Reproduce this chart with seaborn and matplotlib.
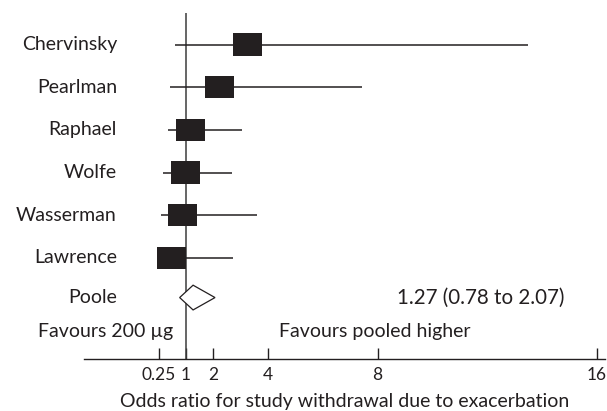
import numpy as np
import pandas as pd
import seaborn as sns
from matplotlib import pyplot as plt
from matplotlib.path import Path

# study odds ratios (linear axis)
studies = ["Chervinsky", "Pearlman", "Raphael", "Wolfe", "Wasserman", "Lawrence"]
odds = [3.27, 2.24, 1.18, 0.99, 0.90, 0.49]
ci_low = [0.62, 0.43, 0.34, 0.16, 0.10, 0.05]
ci_high = [13.5, 7.42, 3.04, 2.68, 3.59, 2.72]

pooled_name = "Poole"
pooled = [1.27, 0.78, 2.07]  # estimate, low, high

tick_vals = [0.03, 1, 2, 4, 8, 16]
tick_labels = ["0.25", "1", "2", "4", "8", "16"]

df = pd.DataFrame({"study": studies, "odds": odds, "lo": ci_low, "hi": ci_high})
df["row"] = np.arange(len(df))

sns.set_theme(style="white")
plt.rcParams["font.family"] = ["Lato", "DejaVu Sans"]
ink = "#231f20"
fs = 14

fig = plt.figure(figsize=(6.07, 4.11), dpi=100)
ax = fig.add_axes([84 / 607, 1 - 359 / 411, (605 - 84) / 607, (359 - 13) / 411])

# confidence intervals
ax.hlines(df["row"], df["lo"], df["hi"], color=ink, lw=1.1, zorder=2)

# rectangular boxes
box = Path([(-1, -0.776), (1, -0.776), (1, 0.776), (-1, 0.776), (-1, -0.776)])
sns.scatterplot(data=df, x="odds", y="row", marker=box, s=437, color=ink,
                edgecolor="none", linewidth=0, ax=ax, zorder=3, legend=False)

# pooled diamond
py = 5.93
est, lo, hi = pooled
h = 0.29
ax.fill([lo, est, hi, est, lo], [py, py - h, py, py + h, py],
        facecolor="white", edgecolor=ink, lw=0.9, zorder=3)

# line of no effect
ax.axvline(1, color="#3c3c3c", lw=1.1, zorder=1)

# row labels
lab_x = -1.51
for r, name in zip(df["row"], df["study"]):
    ax.text(lab_x, r, name, ha="right", va="center", fontsize=fs, color=ink)
ax.text(lab_x, py, pooled_name, ha="right", va="center", fontsize=fs, color=ink)
ax.text(lab_x + 2.05, 6.73, "Favours 200 \u00b5g", ha="right", va="center",
        fontsize=fs, color=ink)
ax.text(4.4, 6.73, "Favours pooled higher", ha="left", va="center",
        fontsize=fs, color=ink)
ax.text(8.7, py, "%.2f (%.2f to %.2f)" % (est, lo, hi), ha="left", va="center",
        fontsize=fs + 0.8, color=ink)

ax.set_xlim(-2.71, 16.30)
ax.set_ylim(7.37, -0.74)
ax.set_yticks([])
ax.set_xticks(tick_vals)
ax.set_xticklabels(tick_labels)
ax.tick_params(axis="x", direction="in", length=8, width=1, color=ink,
               labelsize=12.5, labelcolor=ink, pad=6, bottom=True)
for s in ["top", "right", "left"]:
    ax.spines[s].set_visible(False)
ax.spines["bottom"].set_color(ink)
ax.spines["bottom"].set_linewidth(1)
ax.set_xlabel("Odds ratio for study withdrawal due to exacerbation",
              fontsize=fs, color=ink, labelpad=7)
ax.set_ylabel("")

fig.savefig("out.png", dpi=100)
